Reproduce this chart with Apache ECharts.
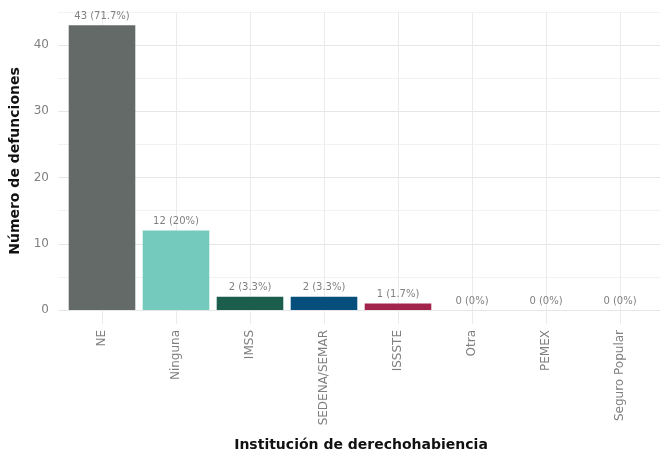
<!DOCTYPE html>
<html>
<head>
    <meta charset="utf-8">
    <title>Defunciones por institución</title>
    <script src="https://cdn.jsdelivr.net/npm/echarts@6/dist/echarts.min.js"></script>
</head>
<body style="margin:0;background:#fff;">
    <div id="main" style="width:660px;height:452px;"></div>
    <script type="text/javascript">
        // datos
        var categorias = ['NE', 'Ninguna', 'IMSS', 'SEDENA/SEMAR', 'ISSSTE', 'Otra', 'PEMEX', 'Seguro Popular'];
        var defunciones = [43, 12, 2, 2, 1, 0, 0, 0];
        var colores = ['#646a68', '#74cabd', '#1b5e4c', '#064f7d', '#a2244c', '#999999', '#999999', '#999999'];
        var yTicks = [0, 10, 20, 30, 40];

        var total = defunciones.reduce(function (a, b) { return a + b; }, 0);
        function etiqueta(v) {
            var p = Math.round(v / total * 1000) / 10;
            return v + ' (' + p + '%)';
        }

        var myChart = echarts.init(document.getElementById('main'));
        var option = {
            backgroundColor: '#ffffff',
            animation: false,
            grid: [
                {left: 65, right: 3, top: 12, bottom: 142, outerBoundsMode: 'none'},   // barras
                {left: 58, right: 0, top: 12, bottom: 142, outerBoundsMode: 'none'}    // lineas horizontales + eje y
            ],
            xAxis: [
                {
                    type: 'category',
                    gridIndex: 0,
                    data: categorias,
                    name: 'Institución de derechohabiencia',
                    nameLocation: 'middle',
                    nameGap: 128,
                    nameTextStyle: {fontFamily: 'DejaVu Sans', fontWeight: 'bold', fontSize: 14, color: '#111'},
                    axisLine: {show: false},
                    axisTick: {show: true, alignWithLabel: true, length: 14, lineStyle: {color: '#ebebeb'}},
                    axisLabel: {rotate: 90, margin: 20, color: '#808080', fontSize: 12, fontFamily: 'DejaVu Sans', interval: 0},
                    splitLine: {show: true, alignWithLabel: true, lineStyle: {color: '#ebebeb'}}
                },
                {type: 'value', gridIndex: 1, show: false, min: 0, max: 1}
            ],
            yAxis: [
                {type: 'value', gridIndex: 0, min: 0, max: 45, interval: 5, show: false},
                {
                    type: 'value',
                    gridIndex: 1,
                    min: 0, max: 45, interval: 5,
                    name: 'Número de defunciones',
                    nameLocation: 'middle',
                    nameGap: 31,
                    nameTextStyle: {fontFamily: 'DejaVu Sans', fontWeight: 'bold', fontSize: 14, color: '#111'},
                    axisLine: {show: false},
                    axisTick: {show: false},
                    axisLabel: {
                        margin: 9, color: '#808080', fontSize: 12, fontFamily: 'DejaVu Sans',
                        formatter: function (v) { return yTicks.indexOf(v) >= 0 ? v : ''; }
                    },
                    splitLine: {show: true, lineStyle: {color: ['#e6e6e6', '#f2f2f2']}}
                }
            ],
            series: [
                {
                    type: 'bar',
                    xAxisIndex: 0,
                    yAxisIndex: 0,
                    barWidth: '90%',
                    data: defunciones.map(function (v, i) {
                        return {value: v, itemStyle: {color: colores[i]}};
                    }),
                    label: {
                        show: true,
                        position: 'top',
                        distance: 4,
                        color: '#808080',
                        fontSize: 10,
                        fontFamily: 'DejaVu Sans',
                        formatter: function (p) { return etiqueta(p.value); }
                    }
                }
            ]
        };
        myChart.setOption(option);
    </script>
</body>
</html>
